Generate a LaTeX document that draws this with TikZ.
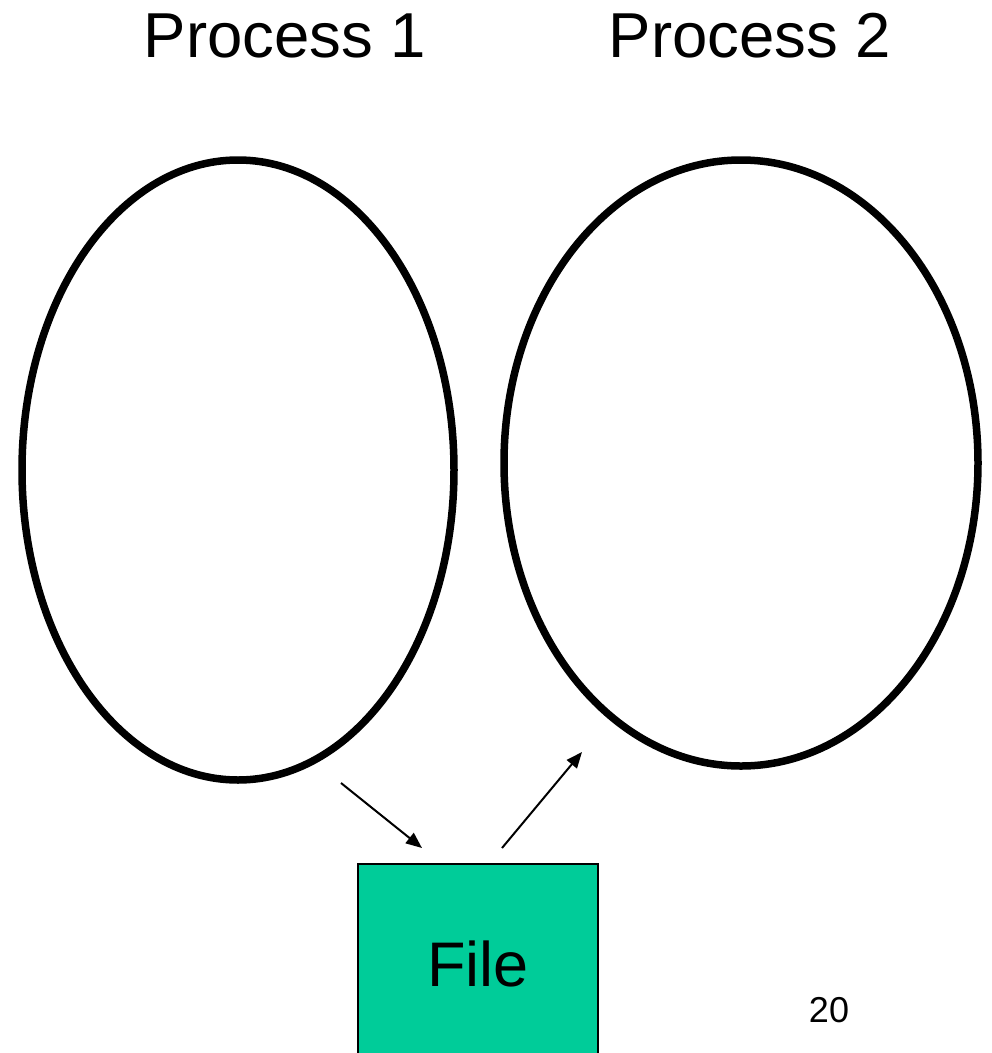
\documentclass[tikz,border=0pt]{standalone}
\usepackage{fontspec}
\setmainfont{Liberation Sans}
\usetikzlibrary{arrows.meta}
\definecolor{filegreen}{HTML}{00CC99}
\tikzset{
  proc/.style={draw=black, line width=7.5pt},
  conn/.style={line width=2pt, -{Triangle[length=16pt,width=13pt]}},
  title/.style={font=\fontsize{63.5}{70}\selectfont, anchor=base},
}
\begin{document}
\begin{tikzpicture}[x=1pt,y=-1pt]
\useasboundingbox (0,0) rectangle (992,1053);
\clip (0,0) rectangle (992,1053);
\node[title] (t1) at (285,57) {Process 1};
\node[title] (t2) at (750,57) {Process 2};
\draw[proc] (238,470) ellipse [x radius=216, y radius=310];
\draw[proc] (741,463) ellipse [x radius=237, y radius=303];
\node[draw=black, line width=1.5pt, fill=filegreen, minimum width=240pt, minimum height=200pt, inner sep=0pt, font=\fontsize{63}{70}\selectfont] (file) at (478,964) {File};
\node[font=\fontsize{36}{40}\selectfont, anchor=base] (num) at (829,1022) {20};
\coordinate (a1s) at (341,783);
\coordinate (a1e) at (422,848);
\coordinate (a2s) at (502,848);
\coordinate (a2e) at (582,752);
\draw[conn] (a1s) -- (a1e);
\draw[conn] (a2s) -- (a2e);
\end{tikzpicture}
\end{document}
